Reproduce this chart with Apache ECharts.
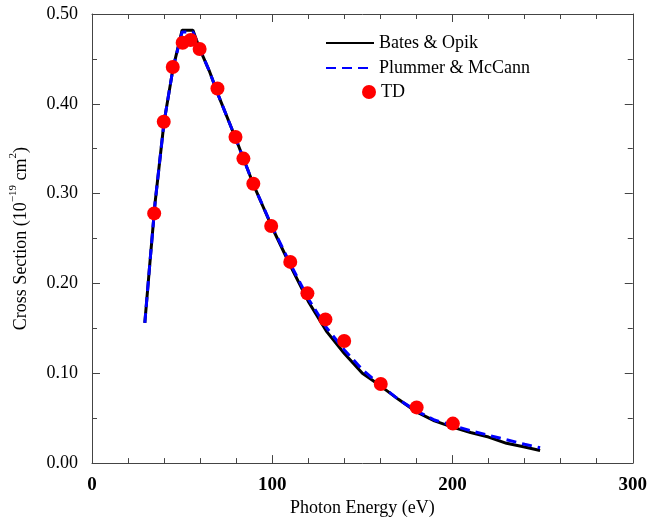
<!DOCTYPE html>
<html>
<head>
<meta charset="utf-8">
<script src="https://cdn.jsdelivr.net/npm/echarts@6/dist/echarts.min.js"></script>
<style>
  html, body { margin: 0; padding: 0; background: #fff; }
  #main { width: 650px; height: 522px; }
</style>
</head>
<body>
<div id="main"></div>
<script>
// photon energy (eV) / cross section (1e-19 cm^2)
var batesX = [29.3, 32, 35, 40, 45, 50, 56, 60, 65, 70, 80, 90, 100, 110, 120, 130, 140, 150, 160, 170, 180, 190, 200, 210, 220, 230, 240, 248.6];
var batesY = [0.156, 0.22, 0.29, 0.38, 0.44, 0.482, 0.482, 0.46, 0.437, 0.41, 0.36, 0.308, 0.262, 0.22, 0.18, 0.147, 0.122, 0.100, 0.086, 0.071, 0.057, 0.047, 0.040, 0.034, 0.029, 0.022, 0.018, 0.014];

var plummerX = [29.3, 32, 35, 40, 45, 50, 56, 60, 65, 70, 80, 90, 100, 110, 120, 130, 140, 150, 160, 170, 180, 190, 200, 210, 220, 230, 240, 248.6];
var plummerY = [0.156, 0.22, 0.29, 0.38, 0.44, 0.480, 0.480, 0.46, 0.437, 0.41, 0.36, 0.308, 0.263, 0.222, 0.183, 0.151, 0.126, 0.104, 0.087, 0.071, 0.058, 0.048, 0.042, 0.036, 0.031, 0.026, 0.021, 0.017];

var tdX = [34.5, 39.8, 44.8, 50.3, 54.7, 59.7, 69.6, 79.6, 84, 89.5, 99.4, 110, 119.5, 129.5, 139.9, 160.2, 180.1, 200.2];
var tdY = [0.278, 0.380, 0.441, 0.468, 0.471, 0.461, 0.417, 0.363, 0.339, 0.311, 0.264, 0.224, 0.189, 0.160, 0.136, 0.088, 0.062, 0.044];

function pairs(xs, ys) {
  return xs.map(function (x, i) { return [x, ys[i]]; });
}

var serif = 'Liberation Serif';
var frameColor = '#444';

var chart = echarts.init(document.getElementById('main'));

function axisStyle(minorSplit) {
  return {
    axisLine: { show: true, onZero: false, lineStyle: { color: frameColor, width: 1 } },
    axisTick: { show: true, inside: true, length: 8, lineStyle: { color: frameColor } },
    minorTick: { show: true, splitNumber: minorSplit, length: 5, lineStyle: { color: frameColor } },
    splitLine: { show: false }
  };
}

var option = {
  backgroundColor: '#fff',
  animation: false,
  grid: { left: 88, right: 17, top: 14, bottom: 56 },
  legend: [{
    orient: 'vertical',
    left: 320,
    top: 29,
    itemWidth: 48,
    itemHeight: 14,
    itemGap: 7,
    itemStyle: { opacity: 0 },
    data: ['Bates & Opik', 'Plummer & McCann'],
    textStyle: { fontFamily: serif, fontSize: 18, color: '#000' }
  }, {
    orient: 'vertical',
    left: 357,
    top: 78,
    itemWidth: 14,
    itemHeight: 14,
    data: ['TD'],
    textStyle: { fontFamily: serif, fontSize: 18, color: '#000' }
  }],
  xAxis: [
    Object.assign({
      type: 'value', min: 0, max: 300, interval: 100, position: 'bottom',
      name: 'Photon Energy (eV)', nameLocation: 'middle', nameGap: 33,
      nameTextStyle: { fontFamily: serif, fontSize: 18, color: '#000' },
      axisLabel: { fontFamily: serif, fontSize: 19, fontWeight: 'bold', color: '#000', margin: 12 }
    }, axisStyle(5)),
    Object.assign({
      type: 'value', min: 0, max: 300, interval: 100, position: 'top',
      axisLabel: { show: false }
    }, axisStyle(5))
  ],
  yAxis: [
    Object.assign({
      type: 'value', min: 0, max: 0.5, interval: 0.1, position: 'left',
      name: '{a|Cross Section (10}{s|−19}{a| cm}{s|2}{a|)}',
      nameLocation: 'middle', nameGap: 62,
      nameTextStyle: {
        rich: {
          a: { fontFamily: serif, fontSize: 18, color: '#000', lineHeight: 22, verticalAlign: 'bottom' },
          s: { fontFamily: serif, fontSize: 11, color: '#000', lineHeight: 22, verticalAlign: 'top' }
        }
      },
      axisLabel: {
        fontFamily: serif, fontSize: 18, color: '#000', margin: 14,
        formatter: function (v) { return v.toFixed(2); }
      }
    }, axisStyle(2)),
    Object.assign({
      type: 'value', min: 0, max: 0.5, interval: 0.1, position: 'right',
      axisLabel: { show: false }
    }, axisStyle(2))
  ],
  series: [{
    name: 'Bates & Opik',
    type: 'line',
    data: pairs(batesX, batesY),
    symbol: 'none',
    itemStyle: { color: '#000' },
    lineStyle: { color: '#000', width: 3 },
    z: 2
  }, {
    name: 'Plummer & McCann',
    type: 'line',
    data: pairs(plummerX, plummerY),
    symbol: 'none',
    itemStyle: { color: '#0000ff' },
    lineStyle: { color: '#0000ff', width: 3, type: [10, 6] },
    z: 3
  }, {
    name: 'TD',
    type: 'scatter',
    data: pairs(tdX, tdY),
    symbol: 'circle',
    symbolSize: 14,
    itemStyle: { color: '#ff0000', opacity: 1 },
    z: 4
  }]
};

chart.setOption(option);
</script>
</body>
</html>
